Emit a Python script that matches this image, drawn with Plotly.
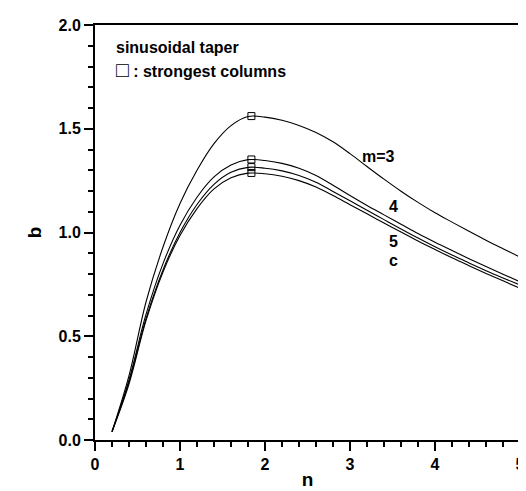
import plotly.graph_objects as go

# n values where the curves were read (every 0.2)
n = [0.2, 0.4, 0.6, 0.8, 1.0, 1.2, 1.4, 1.6, 1.8, 2.0, 2.2, 2.4, 2.6,
     2.8, 3.0, 3.2, 3.4, 3.6, 3.8, 4.0, 4.2, 4.4, 4.6, 4.8, 5.0]

b_m3 = [0.04, 0.31, 0.665, 0.93, 1.14, 1.30, 1.428, 1.515, 1.559, 1.556, 1.541, 1.516, 1.482,
        1.437, 1.38, 1.318, 1.257, 1.199, 1.145, 1.095, 1.05, 1.006, 0.963, 0.922, 0.882]
b_m4 = [0.04, 0.29, 0.605, 0.85, 1.035, 1.17, 1.268, 1.325, 1.351, 1.347, 1.333, 1.31, 1.275,
        1.228, 1.178, 1.13, 1.085, 1.04, 0.995, 0.953, 0.913, 0.874, 0.836, 0.799, 0.763]
b_m5 = [0.04, 0.28, 0.585, 0.82, 1.0, 1.135, 1.232, 1.29, 1.314, 1.31, 1.297, 1.275, 1.242,
        1.198, 1.153, 1.107, 1.062, 1.017, 0.973, 0.931, 0.891, 0.853, 0.816, 0.781, 0.747]
b_c = [0.04, 0.27, 0.575, 0.81, 0.985, 1.115, 1.21, 1.264, 1.286, 1.283, 1.271, 1.25, 1.219,
       1.178, 1.134, 1.09, 1.046, 1.002, 0.959, 0.918, 0.878, 0.84, 0.803, 0.767, 0.731]

# strongest columns (peaks)
peak_n = [1.84, 1.84, 1.84, 1.84]
peak_b = [1.561, 1.352, 1.315, 1.287]

labels = ["m=3", "4", "5", "c"]
label_n = [3.34, 3.51, 3.51, 3.51]
label_b = [1.365, 1.123, 0.955, 0.865]

family = "Liberation Sans, Arial, sans-serif"
font = dict(family=family, color="black", size=16, weight="bold")
title_font = dict(family=family, color="black", size=19, weight="bold")

fig = go.Figure()
for ys in [b_m3, b_m4, b_m5, b_c]:
    fig.add_trace(go.Scatter(x=n, y=ys, mode="lines",
                             line=dict(color="black", width=1.1, shape="spline", smoothing=1),
                             showlegend=False))
fig.add_trace(go.Scatter(x=peak_n, y=peak_b, mode="markers",
                         marker=dict(symbol="square-open", size=7, color="black", line=dict(width=1)),
                         showlegend=False))

for t, x, y in zip(labels, label_n, label_b):
    fig.add_annotation(x=x, y=y, text=t, showarrow=False, font=font)

fig.add_annotation(x=0.22, y=1.894, xanchor="left", text="sinusoidal taper", showarrow=False, font=font)
fig.add_annotation(x=0.22, y=1.784, xanchor="left",
                   text="<span style='font-size:21px;font-weight:normal'>□</span> : strongest columns",
                   showarrow=False, font=font)

axis_common = dict(showline=True, linecolor="black", linewidth=2, mirror=True, showgrid=False,
                   zeroline=False, ticks="outside", tickcolor="black", tickwidth=2,
                   tickfont=font)
fig.update_xaxes(range=[0, 5], dtick=1, ticklen=9, tickformat="d",
                 minor=dict(dtick=0.2, ticks="outside", ticklen=5, tickwidth=2, tickcolor="black"),
                 title=dict(text="n", font=title_font, standoff=0),
                 **axis_common)
fig.update_yaxes(range=[0, 2], dtick=0.5, ticklen=9, tickformat=".1f",
                 minor=dict(dtick=0.1, ticks="outside", ticklen=5, tickwidth=2, tickcolor="black"),
                 title=dict(text="b", font=title_font, standoff=12),
                 **axis_common)

fig.update_layout(width=526, height=491, margin=dict(l=87, r=9, t=15, b=59),
                  plot_bgcolor="white", paper_bgcolor="white")

fig.write_html("out.html")
